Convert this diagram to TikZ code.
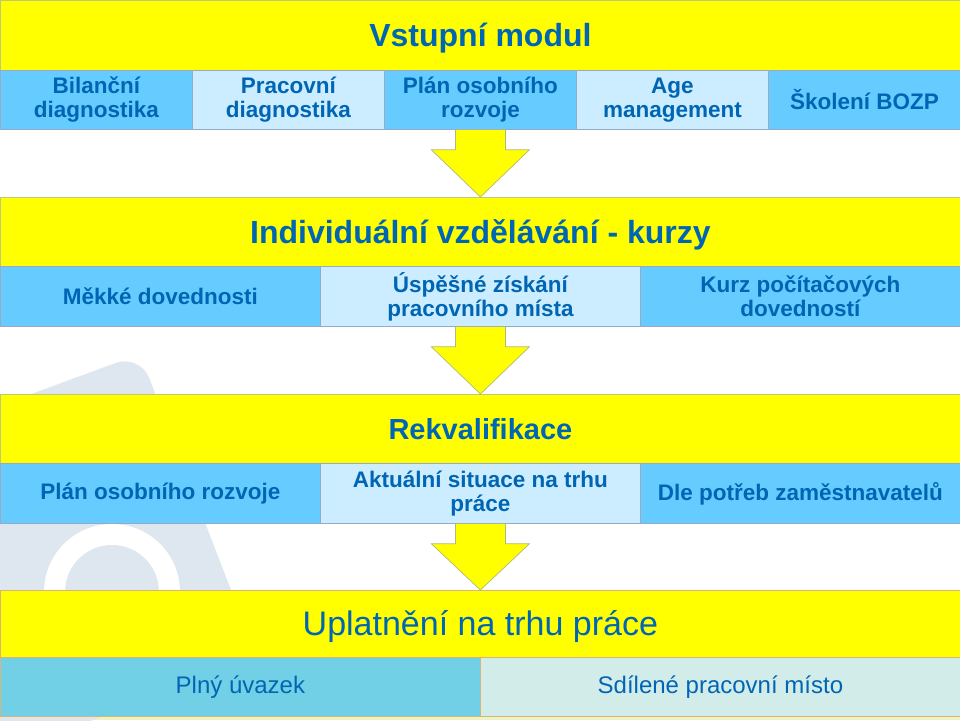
\documentclass[tikz,border=0pt]{standalone}
\usepackage{fontspec}
\setmainfont{Liberation Sans}
\usetikzlibrary{calc}
\definecolor{ybar}{RGB}{255,255,0}
\definecolor{bmid}{RGB}{102,204,255}
\definecolor{blight}{RGB}{204,236,255}
\definecolor{cyanmid}{RGB}{114,208,230}
\definecolor{tealight}{RGB}{210,236,234}
\definecolor{txtblue}{RGB}{0,102,179}
\definecolor{yedge}{RGB}{190,200,120}
\definecolor{bedge}{RGB}{150,170,200}
\definecolor{oedge}{RGB}{215,180,120}
\definecolor{wm}{RGB}{222,231,240}
\definecolor{strip}{RGB}{236,244,196}
\tikzset{
  band/.style={fill=ybar, draw=yedge, line width=0.8pt, inner sep=0pt, anchor=north west,
    minimum width=960pt, text=txtblue, text height=23pt, text depth=0pt,
    font=\bfseries\fontsize{32}{34}\selectfont},
  cell/.style={draw=bedge, line width=0.8pt, inner sep=0pt, anchor=north west, align=center,
    text=txtblue, font=\bfseries\fontsize{22.5}{24}\selectfont},
  midc/.style={cell, fill=bmid},
  litc/.style={cell, fill=blight},
  botc/.style={draw=oedge, line width=0.8pt, inner sep=0pt, anchor=north west, align=center,
    text=txtblue, font=\fontsize{24}{26}\selectfont, minimum width=480pt, minimum height=59pt},
  blockarrow/.style={fill=ybar, draw=yedge!80!gray, line width=0.7pt, line join=miter}
}
\begin{document}
\begin{tikzpicture}[x=1pt, y=-1pt]
\useasboundingbox (0,0) rectangle (960,720);
\fill[white] (0,0) rectangle (960,720);
\fill[strip] (0,716) rectangle (960,720);
% watermark
\fill[wm, rounded corners=26pt] (140,354) -- (258,660) -- (5,752) -- (-110,446) -- cycle;
\fill[white] (112,592) circle (68);
\fill[wm] (112,592) circle (47);

% band 1
\node[band, minimum height=70pt] (t1) at (0,0) {Vstupní modul};
\node[midc, minimum width=192pt, minimum height=59pt] (a1) at (0,70) {Bilanční\\diagnostika};
\node[litc, minimum width=192pt, minimum height=59pt] (a2) at (192,70) {Pracovní\\diagnostika};
\node[midc, minimum width=192pt, minimum height=59pt] (a3) at (384,70) {Plán osobního\\rozvoje};
\node[litc, minimum width=192pt, minimum height=59pt] (a4) at (576,70) {Age\\management};
\node[midc, minimum width=192pt, minimum height=59pt] (a5) at (768,70) {Školení BOZP};

% band 2
\node[band, minimum height=69pt] (t2) at (0,197) {Individuální vzdělávání - kurzy};
\node[midc, minimum width=320pt, minimum height=60pt] (b1) at (0,266) {Měkké dovednosti};
\node[litc, minimum width=320pt, minimum height=60pt] (b2) at (320,266) {Úspěšné získání\\pracovního místa};
\node[midc, minimum width=320pt, minimum height=60pt] (b3) at (640,266) {Kurz počítačových\\dovedností};

% band 3
\node[band, minimum height=69pt, text height=21pt, font=\bfseries\fontsize{29}{31}\selectfont] (t3) at (0,394) {Rekvalifikace};
\node[midc, minimum width=320pt, minimum height=60pt] (c1) at (0,463) {Plán osobního rozvoje};
\node[litc, minimum width=320pt, minimum height=60pt] (c2) at (320,463) {Aktuální situace na trhu\\práce};
\node[midc, minimum width=320pt, minimum height=60pt] (c3) at (640,463) {Dle potřeb zaměstnavatelů};

% band 4
\node[band, draw=oedge, minimum height=67pt, text height=24pt, font=\fontsize{34}{36}\selectfont] (t4) at (0,590) {Uplatnění na trhu práce};
\node[botc, fill=cyanmid] (d1) at (0,657) {Plný úvazek};
\node[botc, fill=tealight] (d2) at (480,657) {Sdílené pracovní místo};

% block arrows
\foreach \s/\e in {a3/t2, b2/t3, c2/t4}{
  \draw[blockarrow] ($(\s.south)+(-25,0)$) -- ($(\s.south)+(-25,20)$) -- ($(\s.south)+(-49,20)$)
    -- (\e.north) -- ($(\s.south)+(49,20)$) -- ($(\s.south)+(25,20)$) -- ($(\s.south)+(25,0)$);
}
\end{tikzpicture}
\end{document}
